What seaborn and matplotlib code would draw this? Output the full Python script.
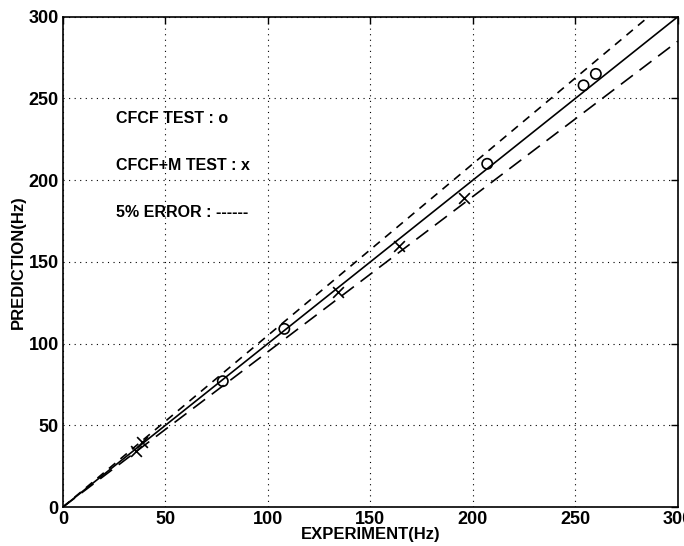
import matplotlib
matplotlib.use("Agg")
import matplotlib.pyplot as plt
import seaborn as sns
import numpy as np
import pandas as pd

sns.set_theme(style="white")
plt.rcParams['font.family'] = ['Liberation Sans', 'DejaVu Sans']
plt.rcParams['font.weight'] = 'bold'
plt.rcParams['text.color'] = 'black'
plt.rcParams['axes.labelcolor'] = 'black'
plt.rcParams['xtick.color'] = 'black'
plt.rcParams['ytick.color'] = 'black'

# data
cfcf_exp = [78, 108, 207, 254, 260]
cfcf_pred = [77, 109, 210, 258, 265]
cfcfm_exp = [35.5, 38.5, 134, 164, 195.5]
cfcfm_pred = [34.5, 39.5, 131.5, 160, 189]
ref_x = [0, 300]
ref_y = [0, 300]
err_frac = 0.05

fig = plt.figure(figsize=(6.84, 5.46), dpi=100)
ax = fig.add_axes([0.092, 0.0714, 0.899, 0.898])

lines = pd.DataFrame({"x": ref_x, "y": ref_y})
sns.lineplot(data=lines, x="x", y="y", ax=ax, color="black", linewidth=1.2)
ux = np.array(ref_x) / (1 + err_frac)
sns.lineplot(x=ux, y=np.array(ref_y), ax=ax, color="black", linewidth=1.2,
             linestyle=(0, (5, 4)))
sns.lineplot(x=np.array(ref_x), y=np.array(ref_y) * (1 - err_frac), ax=ax,
             color="black", linewidth=1.2, linestyle=(0, (9, 5)))

sns.scatterplot(x=cfcf_exp, y=cfcf_pred, ax=ax, marker="o", s=55,
                facecolors="none", edgecolor="black", linewidth=1.2, zorder=5)
sns.scatterplot(x=cfcfm_exp, y=cfcfm_pred, ax=ax, marker="x", s=60,
                color="black", linewidth=1.2, zorder=5)

ax.set_xlim(0, 300)
ax.set_ylim(0, 300)
ticks = [0, 50, 100, 150, 200, 250, 300]
ax.set_xticks(ticks)
ax.set_yticks(ticks)
ax.set_xticklabels([str(t) for t in ticks], fontsize=13, fontweight='bold')
ax.set_yticklabels([str(t) for t in ticks], fontsize=13, fontweight='bold')
ax.tick_params(direction='in', top=True, right=True, length=5, width=1,
               color='black', pad=3, labelcolor='black')
ax.grid(True, color='black', linestyle=(0, (1, 4)), linewidth=0.8)
for sp in ax.spines.values():
    sp.set_color('black')
    sp.set_linewidth(1.2)

ax.set_xlabel("EXPERIMENT(Hz)", fontsize=12, fontweight='bold', labelpad=-1,
              color='black')
ax.set_ylabel("PREDICTION(Hz)", fontsize=12, fontweight='bold', labelpad=2,
              color='black')

ax.text(26, 238, "CFCF TEST : o", fontsize=11.5, fontweight='bold',
        va='center', color='black')
ax.text(26, 209, "CFCF+M TEST : x", fontsize=11.5, fontweight='bold',
        va='center', color='black')
ax.text(26, 180, "5% ERROR : ------", fontsize=11.5, fontweight='bold',
        va='center', color='black')

fig.savefig("out.png", dpi=100, facecolor='white')
